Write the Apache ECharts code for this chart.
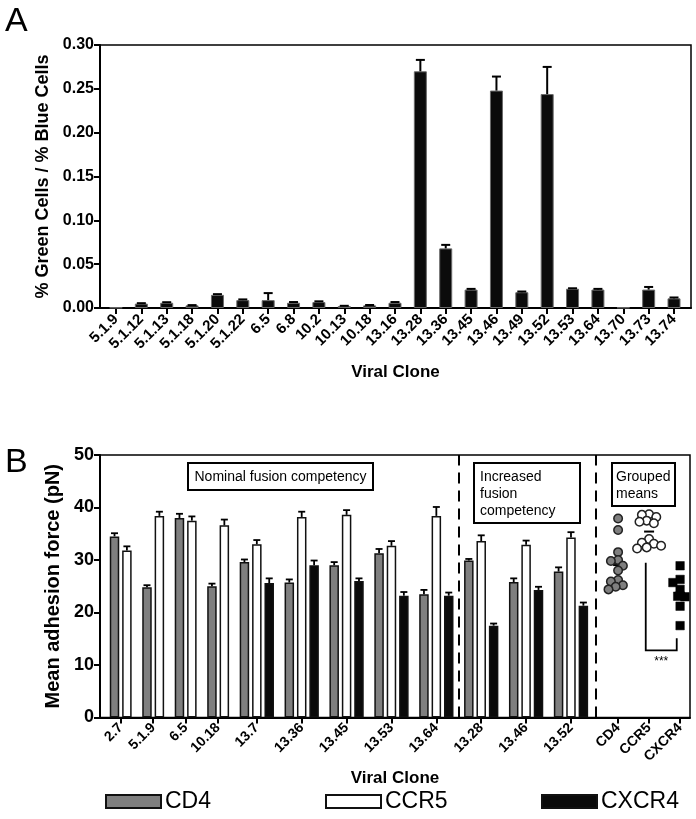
<!DOCTYPE html>
<html><head><meta charset="utf-8">
<script src="https://cdn.jsdelivr.net/npm/echarts@6/dist/echarts.min.js"></script>
<style>html,body{margin:0;padding:0;background:#fff}#c{width:696px;height:819px}</style>
</head><body><div id="c"></div>
<script>
// ---------- Panel A data ----------
const clonesA = ['5.1.9','5.1.12','5.1.13','5.1.18','5.1.20','5.1.22','6.5','6.8','10.2','10.13','10.18','13.16','13.28','13.36','13.45','13.46','13.49','13.52','13.53','13.64','13.70','13.73','13.74'];
const ratioA = [0.0005,0.005,0.006,0.003,0.015,0.009,0.009,0.006,0.0068,0.0022,0.003,0.006,0.270,0.068,0.021,0.248,0.018,0.244,0.022,0.021,0.0005,0.021,0.011];
const ratioErrA = [0,0.0005,0.0006,0.0003,0.0008,0.0008,0.008,0.0008,0.0008,0.0003,0.0004,0.0008,0.013,0.004,0.0008,0.016,0.0008,0.031,0.0005,0.0008,0,0.003,0.001];

// ---------- Panel B data ----------
const clonesB = ['2.7','5.1.9','6.5','10.18','13.7','13.36','13.45','13.53','13.64','13.28','13.46','13.52'];
const cd4B     = [34.5,24.8,38.0,25.0,29.6,25.7,29.0,31.3,23.5,29.9,25.8,27.8];
const cd4ErrB  = [0.6,0.4,0.8,0.5,0.5,0.6,0.6,0.8,0.8,0.3,0.7,0.8];
const ccr5B    = [31.8,38.4,37.5,36.6,33.0,38.2,38.6,32.7,38.4,33.6,32.9,34.3];
const ccr5ErrB = [0.8,0.8,0.8,1.1,0.8,1.0,0.9,0.9,1.7,1.1,0.8,1.0];
const cxcr4B   = [null,null,null,null,25.6,29.0,26.0,23.2,23.2,17.5,24.3,21.3];
const cxcr4ErrB= [null,null,null,null,0.9,0.9,0.5,0.7,0.6,0.4,0.6,0.6];
const receptors = ['CD4','CCR5','CXCR4'];
const groupedCD4   = [37.9,35.7,31.5,30.0,29.8,28.9,28.0,26.2,25.9,25.2,24.9,24.4];
const groupedCCR5  = [38.7,38.6,38.2,37.5,37.3,37.0,34.0,33.3,33.1,32.7,32.4,32.2];
const groupedCXCR4 = [28.9,26.3,25.7,24.4,23.1,23.0,21.2,17.5];
const sigLabel = '***';

// ---------- layout of panel A (index units) ----------
const idxA = clonesA.map((c,i)=>i);
const xMinA = -0.63, xMaxA = clonesA.length - 1 + 0.67;

// ---------- layout of panel B (slot units) ----------
const GAP = 0.62;
const seriesB = [cd4B, ccr5B, cxcr4B];
const errB = [cd4ErrB, ccr5ErrB, cxcr4ErrB];
const barPos = [[],[],[]];
const tickVals = [], tickNames = [], lastBars = [];
let pos = 0;
clonesB.forEach((c,i)=>{
  const xs = [];
  seriesB.forEach((arr,k)=>{ if(arr[i]!=null){ barPos[k][i]=pos; xs.push(pos); pos+=1; } else barPos[k][i]=null; });
  tickVals.push(xs.reduce((a,b)=>a+b,0)/xs.length); tickNames.push(c);
  lastBars.push(xs[xs.length-1]);
  pos += GAP;
});
const sep1 = lastBars[8] + (1+GAP)/2;
const sep2 = lastBars[11] + 1.0;
const colX = receptors.map((r,k)=> lastBars[11] + 2.8 + k*2.5);
receptors.forEach((r,k)=>{ tickVals.push(colX[k]); tickNames.push(r); });
const xMin = -1.17, xMax = lastBars[11] + 8.6;
const nameMap = {}; tickVals.forEach((v,i)=> nameMap[v.toFixed(4)] = tickNames[i]);

const gridBW = 590, gridBH = 262.5;
const pxX = gridBW/(xMax-xMin), pxY = gridBH/50;
function swarm(vals, cx, step, minD){
  const placed=[], out=[];
  vals.forEach(v=>{
    const offs=[0]; for(let k=1;k<14;k++){offs.push(-k*step,k*step);}
    for(const o of offs){
      if(placed.every(p=>Math.hypot(p[0]-o,(p[1]-v)*pxY)>=minD)){placed.push([o,v]); out.push([cx+o/pxX, v]); break;}
    }
  });
  return out;
}
const groupedVals = [groupedCD4, groupedCCR5, groupedCXCR4];
const swarmData = groupedVals.map((g,k)=> swarm(g, colX[k], 2.4, k==2?7:6.4));
const meanData = groupedVals.map((g,k)=> [colX[k], g.reduce((a,b)=>a+b,0)/g.length]);

const fontF = 'Liberation Sans, Arial, Helvetica, sans-serif';
const black = '#000';

function errRender(capW, lw){
  return function(params, api){
    const x=api.value(0), y=api.value(1), e=api.value(2);
    const p0=api.coord([x,y]), p1=api.coord([x,y+e]);
    const h=capW/2;
    return {type:'group', children:[
      {type:'line', shape:{x1:p0[0],y1:p0[1],x2:p1[0],y2:p1[1]}, style:{stroke:black,lineWidth:lw}},
      {type:'line', shape:{x1:p1[0]-h,y1:p1[1],x2:p1[0]+h,y2:p1[1]}, style:{stroke:black,lineWidth:lw}}
    ]};
  };
}

const styleB = [
  {color:'#7f7f7f', borderColor:'#111', borderWidth:1.5},
  {color:'#ffffff', borderColor:'#111', borderWidth:1.5},
  {color:'#0a0a0a', borderColor:'#111', borderWidth:1.5}
];

const series = [];
// Panel A
series.push({type:'bar', name:'ratio', xAxisIndex:0, yAxisIndex:0, data:ratioA.map((v,i)=>[idxA[i],v]), barWidth:13,
  itemStyle:{color:'#0b0b0b', borderColor:'#6a6a6a', borderWidth:1}, silent:true});
series.push({type:'custom', xAxisIndex:0, yAxisIndex:0, renderItem:errRender(9,2), encode:{x:0,y:1},
  data: ratioA.map((v,i)=>[idxA[i],v,ratioErrA[i]]).filter(d=>d[2]>0), z:5, silent:true});
// Panel B bars
receptors.forEach((r,k)=>{
  const d=[]; const de=[];
  clonesB.forEach((c,i)=>{ if(seriesB[k][i]!=null){ d.push([barPos[k][i], seriesB[k][i]]); de.push([barPos[k][i], seriesB[k][i], errB[k][i]]); } });
  series.push({type:'bar', name:r, xAxisIndex:1, yAxisIndex:1, data:d, barWidth:9.5, barGap:'-100%', itemStyle:styleB[k], silent:true});
  series.push({type:'custom', name:r+' err', xAxisIndex:1, yAxisIndex:1, renderItem:errRender(7,1.8), encode:{x:0,y:1}, data:de, z:5, silent:true});
});
// grouped mean lines
series.push({type:'custom', name:'means', xAxisIndex:1, yAxisIndex:1, encode:{x:0,y:1}, data:meanData, z:3, silent:true,
  renderItem:(p,api)=>{const c=api.coord([api.value(0),api.value(1)]); return {type:'line', shape:{x1:c[0]-5,y1:c[1],x2:c[0]+5,y2:c[1]}, style:{stroke:black,lineWidth:2}};}});
// grouped scatter
const symB = ['circle','circle','rect'];
receptors.forEach((r,k)=>{
  series.push({type:'scatter', name:r+' grouped', xAxisIndex:1, yAxisIndex:1, data:swarmData[k], symbol:symB[k], symbolSize: 8.5,
    itemStyle: k==2?{color:'#000', borderColor:'#000', borderWidth:0.5, opacity:1}:{color:styleB[k].color, borderColor:'#222', borderWidth:1.5, opacity:1}, z:6, silent:true});
});
// significance bracket + separators
const bracket = [[colX[1]-0.27, 29.5, colX[2]-0.27, 12.8, 15.1]];
series.push({type:'custom', name:'bracket', xAxisIndex:1, yAxisIndex:1, encode:{x:0,y:1}, data:bracket, z:4, silent:true,
  renderItem:(p,api)=>{
    const a=api.coord([api.value(0),api.value(1)]), b=api.coord([api.value(0),api.value(3)]),
          c=api.coord([api.value(2),api.value(3)]), d=api.coord([api.value(2),api.value(4)]);
    return {type:'group', children:[
      {type:'polyline', shape:{points:[a,b,c,d]}, style:{stroke:black,lineWidth:1.8,fill:null}},
      {type:'text', x:(b[0]+c[0])/2, y:b[1]+5, style:{text:sigLabel, fill:black, font:'12px '+fontF, align:'center', verticalAlign:'top'}}
    ]};
  },
  markLine:{silent:true, symbol:['none','none'], label:{show:false}, lineStyle:{color:black, width:2, type:[11,7]},
    data:[{xAxis:sep1},{xAxis:sep2}]}
});

const axLine = {show:true, onZero:false, lineStyle:{color:black,width:2}};
const axTick = {show:true, length:6, lineStyle:{color:black,width:2}};

const option = {
  animation:false,
  backgroundColor:'#fff',
  textStyle:{fontFamily:fontF},
  grid:[
    {left:100, right:5, top:45, height:263, show:true, borderColor:black, borderWidth:1.5, containLabel:false, outerBoundsMode:'none'},
    {left:100, right:6, top:455, height:gridBH, show:true, borderColor:black, borderWidth:1.5, containLabel:false, outerBoundsMode:'none'}
  ],
  xAxis:[
    {gridIndex:0, type:'value', min:xMinA, max:xMaxA, axisLine:axLine, splitLine:{show:false},
      axisTick:Object.assign({customValues:idxA}, axTick),
      axisLabel:{customValues:idxA, formatter:v=>clonesA[Math.round(v)]||'', rotate:45, fontSize:15, fontWeight:'bold', color:black, margin:9, fontFamily:fontF},
      name:'Viral Clone', nameLocation:'middle', nameGap:56, nameTextStyle:{fontSize:17, fontWeight:'bold', color:black, fontFamily:fontF}},
    {gridIndex:1, type:'value', min:xMin, max:xMax, axisLine:axLine, splitLine:{show:false},
      axisTick:Object.assign({customValues:tickVals}, axTick),
      axisLabel:{customValues:tickVals, formatter:v=>nameMap[Number(v).toFixed(4)]||'', rotate:45, fontSize:14, fontWeight:'bold', color:black, margin:8, fontFamily:fontF},
      name:'Viral Clone', nameLocation:'middle', nameGap:52, nameTextStyle:{fontSize:17, fontWeight:'bold', color:black, fontFamily:fontF}}
  ],
  yAxis:[
    {gridIndex:0, type:'value', min:0, max:0.3, interval:0.05, axisLine:axLine, axisTick:axTick, splitLine:{show:false},
      axisLabel:{formatter:v=>v.toFixed(2), fontSize:16, fontWeight:'bold', color:black, margin:6, fontFamily:fontF},
      name:'% Green Cells / % Blue Cells', nameLocation:'middle', nameGap:45, nameTextStyle:{fontSize:18, fontWeight:'bold', color:black, fontFamily:fontF}},
    {gridIndex:1, type:'value', min:0, max:50, interval:10, axisLine:axLine, axisTick:axTick, splitLine:{show:false},
      axisLabel:{fontSize:18, fontWeight:'bold', color:black, margin:6, fontFamily:fontF},
      name:'Mean adhesion force (pN)', nameLocation:'middle', nameGap:36, nameTextStyle:{fontSize:20, fontWeight:'bold', color:black, fontFamily:fontF}}
  ],
  legend: receptors.map((r,k)=>({data:[r], left:[105,325,541][k], top:790, padding:0, icon:'rect', itemWidth:55, itemHeight:13, itemGap:0,
    textStyle:{fontSize:23, color:black, fontFamily:fontF, padding:[0,0,0,-1]}, selectedMode:false,
    itemStyle:{borderWidth:2, borderColor:'#111'}})),
  graphic:[
    {type:'text', x:5, y:5, style:{text:'A', fontSize:34, fontFamily:fontF, fill:black, verticalAlign:'top'}},
    {type:'text', x:5, y:446, style:{text:'B', fontSize:34, fontFamily:fontF, fill:black, verticalAlign:'top'}},
    {type:'rect', shape:{x:188,y:463,width:185,height:27}, style:{fill:'#fff', stroke:black, lineWidth:2}, z:10},
    {type:'text', x:280.5, y:477, style:{text:'Nominal fusion competency', fontSize:14, fontFamily:fontF, fill:black, align:'center', verticalAlign:'middle'}, z:11},
    {type:'rect', shape:{x:474,y:463,width:106,height:60}, style:{fill:'#fff', stroke:black, lineWidth:2}, z:10},
    {type:'text', x:480, y:468.5, style:{text:'Increased\nfusion\ncompetency', fontSize:14, lineHeight:17, fontFamily:fontF, fill:black, align:'left', verticalAlign:'top'}, z:11},
    {type:'rect', shape:{x:612,y:463,width:63,height:43}, style:{fill:'#fff', stroke:black, lineWidth:2}, z:10},
    {type:'text', x:616, y:468.5, style:{text:'Grouped\nmeans', fontSize:14, lineHeight:17, fontFamily:fontF, fill:black, align:'left', verticalAlign:'top'}, z:11}
  ],
  series: series
};
const chart = echarts.init(document.getElementById('c'), null, {renderer:'canvas'});
chart.setOption(option);
</script>
</body></html>
